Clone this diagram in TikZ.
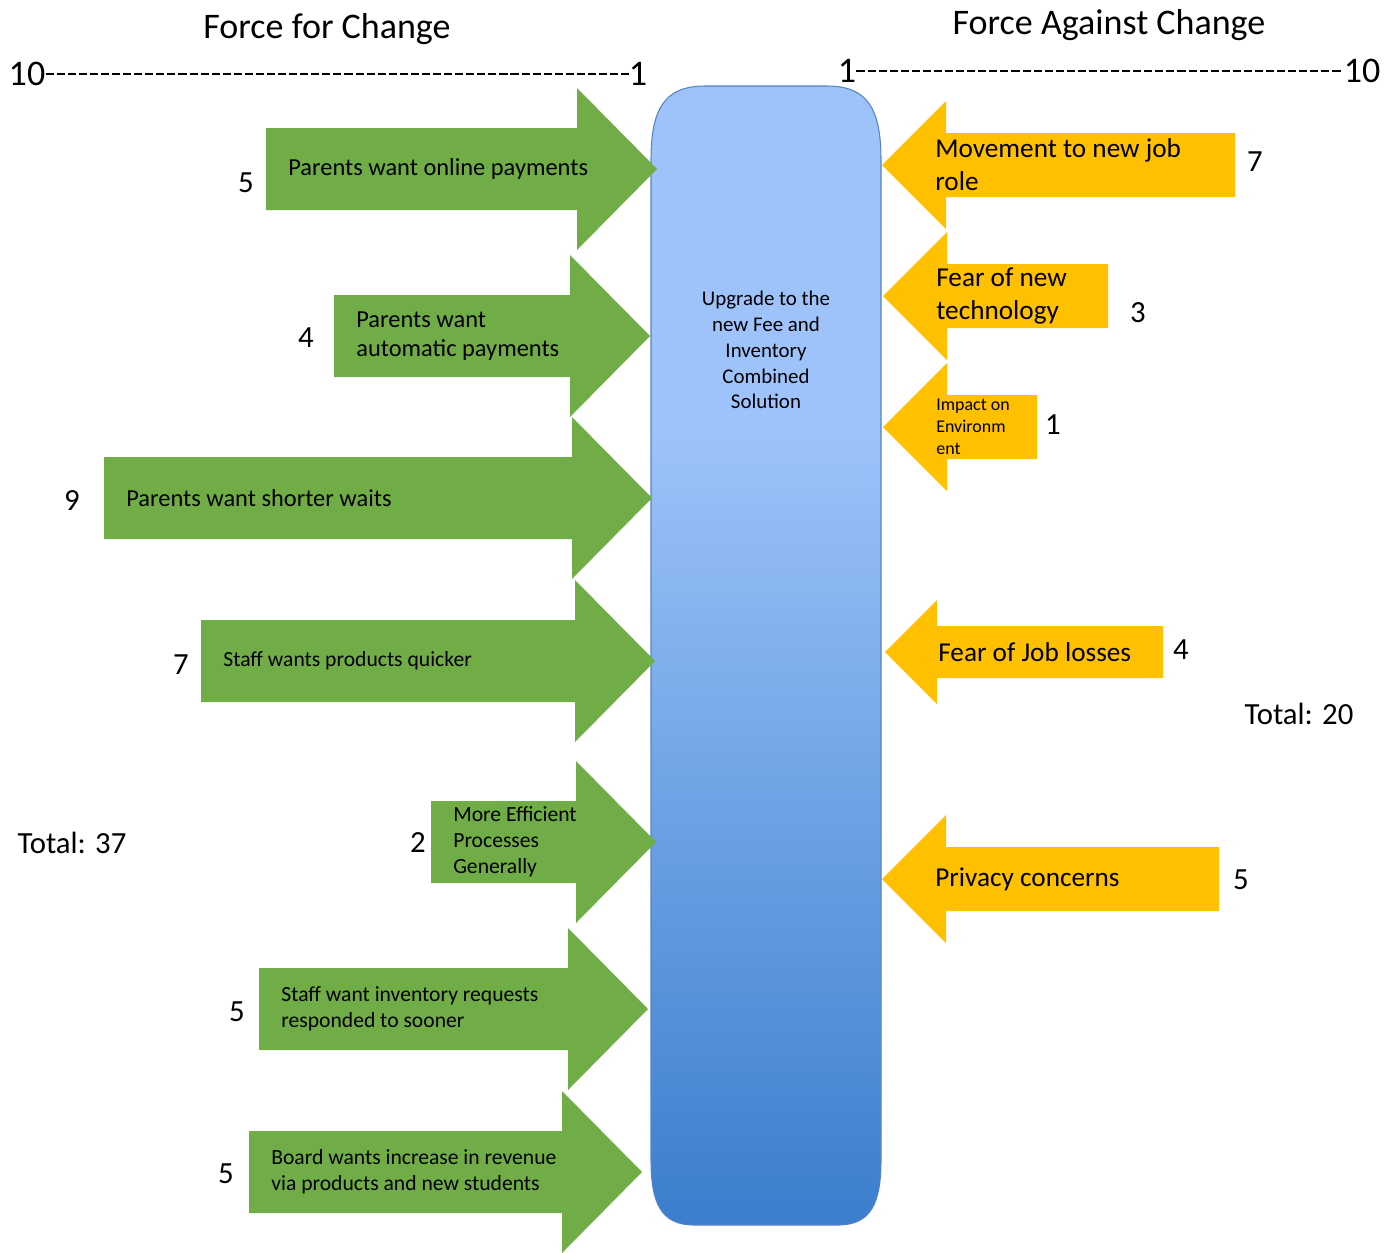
\documentclass[tikz,border=0pt]{standalone}
\usepackage{fontspec}
\setmainfont{Carlito}
\definecolor{forfill}{RGB}{112,173,71}
\definecolor{agfill}{RGB}{255,192,0}
\definecolor{barlight}{RGB}{157,195,250}
\definecolor{bardark}{RGB}{58,126,204}
\definecolor{baredge}{RGB}{84,132,200}
\pgfdeclareverticalshading{barshade}{100bp}{color(0bp)=(bardark); color(25bp)=(bardark); color(60bp)=(barlight); color(100bp)=(barlight)}
\tikzset{
  headtxt/.style={font=\fontsize{20.5}{24}\selectfont},
  scaleno/.style={font=\fontsize{20.5}{24}\selectfont, inner sep=0pt},
  scaledash/.style={line width=1.1pt, dash pattern=on 4.6pt off 1.7pt},
  wnum/.style={font=\fontsize{17.5}{21}\selectfont, inner sep=0pt},
  bigtxt/.style={font=\fontsize{13.9}{16.4}\selectfont, align=left, anchor=west, inner sep=0pt},
  smalltxt/.style={font=\fontsize{12.3}{14.7}\selectfont, align=left, anchor=west, inner sep=0pt},
  agtxt/.style={font=\fontsize{15.5}{18.7}\selectfont, align=left, anchor=west, inner sep=0pt},
  tinytxt/.style={font=\fontsize{10.2}{12.5}\selectfont, align=left, anchor=west, inner sep=0pt},
  goaltxt/.style={font=\fontsize{11.9}{14.7}\selectfont, align=center, inner sep=0pt},
}
\begin{document}
\begin{tikzpicture}[x=0.02cm,y=-0.02cm]
\newcommand\forarrow[8]{
\fill[forfill] (#1,#3-41) -- (#2,#3-41) -- (#2,#3-81) -- (#2+80,#3) -- (#2,#3+81) -- (#2,#3+41) -- (#1,#3+41) -- cycle;
\node[#5] (#4) at (#1+22,#3) {#6};
\node[wnum] (#4w) at (#8) {#7};
}
\newcommand\agarrow[9]{
\fill[agfill] (#1,#2) -- (#1+2*#4,#2-2*#4) -- (#1+2*#4,#2-#4) -- (#3,#2-#4) -- (#3,#2+#4) -- (#1+2*#4,#2+#4) -- (#1+2*#4,#2+2*#4) -- cycle;
\node[#6] (#5) at (#1+53,#2) {#7};
\node[wnum] (#5w) at (#9) {#8};
}
\useasboundingbox (0,0) rectangle (1397,1252);

% headings and scales
\node[headtxt] (forhead) at (327,29) {Force for Change};
\node[headtxt] (aghead) at (1109,25) {Force Against Change};
\node[scaleno] (forten) at (27,74) {10};
\node[scaleno] (forone) at (638,74) {1};
\node[scaleno] (agone) at (847,71) {1};
\node[scaleno] (agten) at (1362,71) {10};
\draw[scaledash] (forten.east) -- (forone.west);
\draw[scaledash] (agone.east) -- (agten.west);

% the change
\path[shade, shading=barshade, draw=baredge, line width=0.6pt]
  (651,160) .. controls (651,108) and (665,86) .. (705,86) -- (827,86)
  .. controls (867,86) and (881,108) .. (881,160) -- (881,1160)
  .. controls (881,1203) and (871,1225) .. (838,1225) -- (694,1225)
  .. controls (661,1225) and (651,1203) .. (651,1160) -- cycle;
\node[goaltxt] (goal) at (766,350) {Upgrade to the\\new Fee and\\Inventory\\Combined\\Solution};

% forces for
\forarrow{266}{577}{169}{online}{bigtxt}{Parents want online payments}{5}{246,183}
\forarrow{334}{570}{336}{auto}{bigtxt}{Parents want\\automatic payments}{4}{306,338}
\forarrow{104}{572}{498}{waits}{bigtxt}{Parents want shorter waits}{9}{72,501}
\forarrow{201}{575}{661}{quick}{smalltxt}{Staff wants products quicker}{7}{181,665}
\forarrow{431}{576}{842}{effic}{smalltxt}{More Efficient\\Processes\\Generally}{2}{418,843}
\forarrow{259}{568}{1009}{invent}{smalltxt}{Staff want inventory requests\\responded to sooner}{5}{237,1012}
\forarrow{249}{562}{1172}{board}{smalltxt}{Board wants increase in revenue\\via products and new students}{5}{226,1174}
\node[wnum] (fortotal) at (72,843) {Total: 37};

% forces against
\agarrow{882}{165}{1235}{32}{jobrole}{agtxt}{Movement to new job\\role}{7}{1255,162}
\agarrow{883}{296}{1108}{32}{tech}{agtxt}{Fear of new\\technology}{3}{1138,313}
\agarrow{883}{427}{1037}{32}{environ}{tinytxt}{Impact on\\Environm\\ent}{1}{1053,425}
\agarrow{885}{652}{1163}{26}{losses}{agtxt}{Fear of Job losses}{4}{1181,650}
\agarrow{882}{879}{1219}{32}{privacy}{agtxt}{Privacy concerns}{5}{1241,880}
\node[wnum] (agtotal) at (1299,714) {Total: 20};
\end{tikzpicture}
\end{document}
